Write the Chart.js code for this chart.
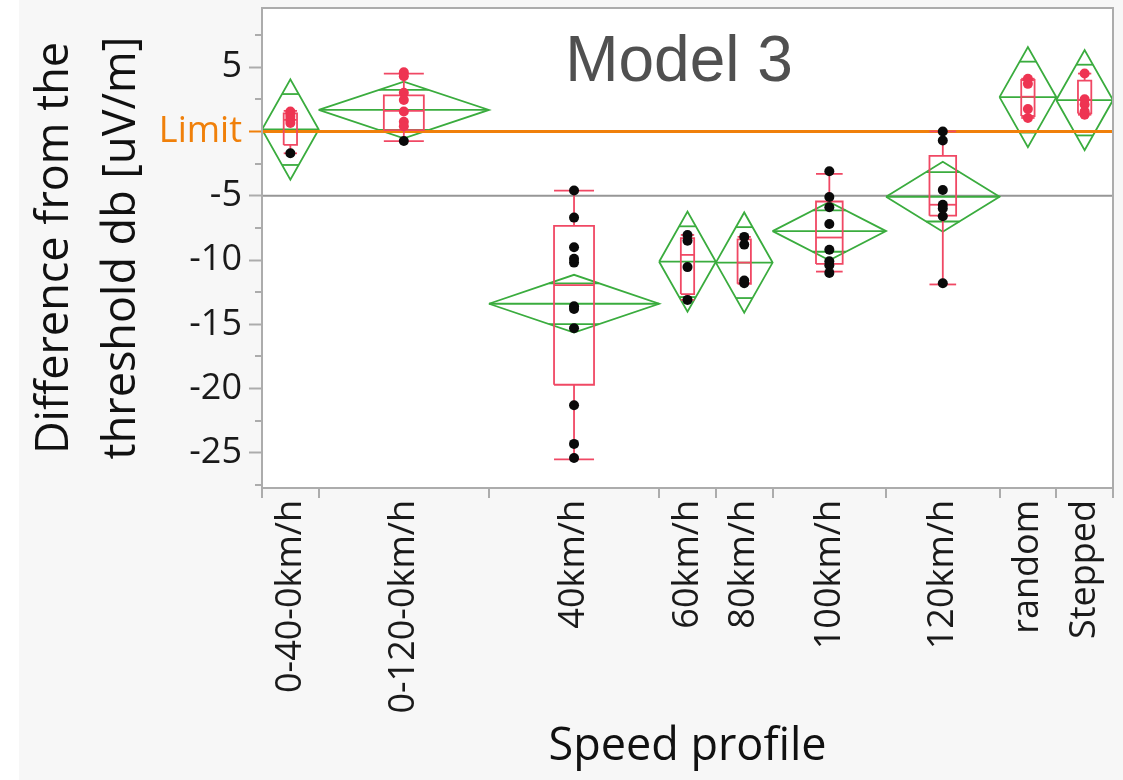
<!DOCTYPE html>
<html>
<head>
<meta charset="utf-8">
<script src="https://cdn.jsdelivr.net/npm/chart.js@4"></script>
<style>
  html, body { margin: 0; padding: 0; background: #ffffff; }
  #wrap { width: 1123px; height: 780px; position: relative; }
</style>
</head>
<body>
<div id="wrap"><canvas id="c"></canvas></div>
<script>
// Speed profiles and their relative group widths
const categories = ['0-40-0km/h', '0-120-0km/h', '40km/h', '60km/h', '80km/h', '100km/h', '120km/h', 'random', 'Stepped'];
const groupWeight = [1, 3, 3, 1, 1, 2, 2, 1, 1];

// Measured differences from the threshold (dB uV/m) per speed profile
const observations = [
  [1.55, 1.35, 1.15, 0.9, 0.65, -1.7],
  [4.6, 4.3, 3.0, 2.45, 1.55, 0.75, 0.4, -0.75],
  [-4.6, -6.7, -9.0, -9.9, -10.2, -13.6, -13.8, -15.3, -21.3, -24.3, -25.4],
  [-8.05, -8.5, -10.55, -13.1],
  [-8.2, -8.8, -11.6, -11.8],
  [-3.1, -5.1, -5.9, -7.2, -9.2, -10.1, -10.4, -11.0],
  [0.0, -0.7, -4.55, -5.7, -6.0, -6.6, -11.8],
  [4.1, 3.7, 1.75, 1.05],
  [4.5, 2.5, 2.1, 1.55, 1.3]
];

// Box plot statistics
const boxQ1       = [-1.05, 0.1, -19.7, -12.65, -11.85, -10.3, -6.55, 1.2, 1.4];
const boxMedian   = [0.9, 1.6, -11.95, -9.6, -10.2, -8.25, -5.7, 2.7, 2.45];
const boxQ3       = [1.4, 2.8, -7.35, -8.3, -8.4, -5.45, -1.9, 4.0, 3.95];
const whiskerLow  = [-1.7, -0.75, -25.5, -13.1, -11.8, -10.9, -11.9, 1.05, 1.3];
const whiskerHigh = [1.6, 4.5, -4.6, -8.05, -8.2, -3.3, 0.0, 4.1, 4.5];

// Means diamonds: group mean and 95% confidence half-width
const groupMean = [0.15, 1.67, -13.4, -10.13, -10.2, -7.75, -5.08, 2.67, 2.44];
const meanCI    = [3.9, 2.2, 2.25, 3.89, 3.9, 2.27, 2.72, 3.9, 3.89];

// Reference lines
const limitValue = 0;
const grandMean = -5;

// Axis ticks
const yTickValues = [5, 0, -5, -10, -15, -20, -25];
const yMinorTicks = [7.5, 2.5, -2.5, -7.5, -12.5, -17.5, -22.5, -27.5];
const yMin = -27.73, yMax = 9.6;

const GREEN = 'rgb(58,172,62)';
const BOX_RED = 'rgb(240,72,100)';
const POINT_RED = 'rgb(238,52,82)';
const POINT_BLACK = 'rgb(10,10,10)';
const ORANGE = 'rgb(240,128,10)';
const FRAME = 'rgb(172,172,172)';

// Group positions along the x scale
const catCenter = [];
const catBounds = [0];
let acc = 0;
groupWeight.forEach(w => { catCenter.push(acc + w / 2); acc += w; catBounds.push(acc); });
const xMax = acc;

function lineSet(points, color, width, order) {
  return {
    data: points, showLine: true, borderColor: color, borderWidth: width,
    pointRadius: 0, pointHoverRadius: 0, fill: false, tension: 0, order: order,
    borderJoinStyle: 'miter'
  };
}

const datasets = [];

// Points on top
const pts = [], ptColors = [];
observations.forEach((arr, i) => arr.forEach(v => {
  pts.push({ x: catCenter[i], y: v });
  ptColors.push(v > limitValue ? POINT_RED : POINT_BLACK);
}));
datasets.push({
  data: pts, pointRadius: 5, pointHoverRadius: 5, pointBackgroundColor: ptColors,
  pointBorderWidth: 0, showLine: false, order: 0
});

// Limit line and grand mean line
datasets.push(lineSet([{ x: 0, y: limitValue }, { x: xMax, y: limitValue }], ORANGE, 3, 2));
datasets.push(lineSet([{ x: 0, y: grandMean }, { x: xMax, y: grandMean }], 'rgb(150,150,150)', 2, 5));

// Box plots
categories.forEach((_, i) => {
  const c = catCenter[i];
  const bw = 0.1175 * groupWeight[i];
  datasets.push(lineSet([
    { x: c - bw, y: boxQ1[i] }, { x: c + bw, y: boxQ1[i] }, { x: c + bw, y: boxQ3[i] },
    { x: c - bw, y: boxQ3[i] }, { x: c - bw, y: boxQ1[i] }], BOX_RED, 1.8, 1));
  datasets.push(lineSet([{ x: c - bw, y: boxMedian[i] }, { x: c + bw, y: boxMedian[i] }], BOX_RED, 1.8, 1));
  datasets.push(lineSet([{ x: c, y: boxQ3[i] }, { x: c, y: whiskerHigh[i] }], BOX_RED, 1.8, 1));
  datasets.push(lineSet([{ x: c, y: boxQ1[i] }, { x: c, y: whiskerLow[i] }], BOX_RED, 1.8, 1));
  datasets.push(lineSet([{ x: c - bw, y: whiskerHigh[i] }, { x: c + bw, y: whiskerHigh[i] }], BOX_RED, 1.8, 1));
  datasets.push(lineSet([{ x: c - bw, y: whiskerLow[i] }, { x: c + bw, y: whiskerLow[i] }], BOX_RED, 1.8, 1));
});

// Means diamonds with overlap marks
categories.forEach((_, i) => {
  const L = catBounds[i], R = catBounds[i + 1], c = catCenter[i];
  const m = groupMean[i], ci = meanCI[i];
  datasets.push(lineSet([
    { x: L, y: m }, { x: c, y: m + ci }, { x: R, y: m }, { x: c, y: m - ci }, { x: L, y: m }], GREEN, 1.8, 3));
  datasets.push(lineSet([{ x: L, y: m }, { x: R, y: m }], GREEN, 1.8, 3));
  const k = 1 / Math.SQRT2;
  const hw = (R - L) / 2 * (1 - k);
  datasets.push(lineSet([{ x: c - hw, y: m + ci * k }, { x: c + hw, y: m + ci * k }], GREEN, 1.8, 3));
  datasets.push(lineSet([{ x: c - hw, y: m - ci * k }, { x: c + hw, y: m - ci * k }], GREEN, 1.8, 3));
});

// Panel background, frame, minor ticks, group separators and the plot title
const decor = {
  id: 'decor',
  beforeDraw(chart) {
    const { ctx, chartArea: a, width, height } = chart;
    ctx.save();
    ctx.fillStyle = '#ffffff';
    ctx.fillRect(0, 0, width, height);
    ctx.fillStyle = '#f7f7f7';
    ctx.fillRect(19, 0, width - 19, height);
    ctx.fillStyle = '#ffffff';
    ctx.fillRect(a.left, a.top, a.right - a.left, a.bottom - a.top);
    ctx.restore();
  },
  afterDraw(chart) {
    const { ctx, chartArea: a } = chart;
    const xs = chart.scales.x, ys = chart.scales.y;
    ctx.save();
    ctx.strokeStyle = FRAME;
    ctx.lineWidth = 2;
    ctx.strokeRect(a.left, a.top, a.right - a.left, a.bottom - a.top);
    ctx.beginPath();
    yMinorTicks.forEach(v => {
      const p = Math.round(ys.getPixelForValue(v));
      ctx.moveTo(a.left - 7, p); ctx.lineTo(a.left, p);
    });
    catBounds.forEach(b => {
      const p = Math.round(xs.getPixelForValue(b));
      ctx.moveTo(p, a.bottom); ctx.lineTo(p, a.bottom + 10);
    });
    ctx.stroke();
    ctx.fillStyle = '#505050';
    ctx.font = '64px "Liberation Sans", Arial, sans-serif';
    ctx.textAlign = 'center';
    ctx.textBaseline = 'alphabetic';
    ctx.fillText('Model 3', 679, 81);
    ctx.restore();
  }
};

const TICK_FONT = { family: '"Open Sans", "Noto Sans", sans-serif', size: 36 };
const TITLE_FONT = { family: '"Open Sans", "Noto Sans", sans-serif', size: 45, lineHeight: 1.5 };

new Chart(document.getElementById('c'), {
  type: 'scatter',
  data: { datasets },
  plugins: [decor],
  options: {
    responsive: true,
    maintainAspectRatio: false,
    animation: false,
    events: [],
    layout: { padding: { top: 8, right: 10, left: 0, bottom: 0 } },
    plugins: { legend: { display: false }, tooltip: { enabled: false } },
    scales: {
      x: {
        type: 'linear', min: 0, max: xMax,
        border: { display: false },
        grid: { display: true, drawOnChartArea: false, drawTicks: false },
        afterBuildTicks(scale) { scale.ticks = catCenter.map(v => ({ value: v })); },
        afterFit(scale) { scale.height = 292; scale.paddingLeft = 0; scale.paddingRight = 0; },
        ticks: {
          autoSkip: false, minRotation: 90, maxRotation: 90, padding: 12,
          color: '#1a1a1a', font: TICK_FONT,
          callback: (value, index) => categories[index]
        },
        title: {
          display: true, text: 'Speed profile', color: '#111111',
          font: { family: '"Open Sans", "Noto Sans", sans-serif', size: 45 },
          padding: { top: 0, bottom: 6 }
        }
      },
      y: {
        type: 'linear', min: yMin, max: yMax,
        border: { display: false },
        grid: {
          drawOnChartArea: false, drawTicks: true, tickLength: 13, tickWidth: 2,
          tickColor: ctx => (ctx.tick && ctx.tick.value === limitValue) ? ORANGE : FRAME
        },
        afterBuildTicks(scale) { scale.ticks = yTickValues.map(v => ({ value: v })); },
        afterFit(scale) { scale.width = 262; scale.paddingTop = 0; scale.paddingBottom = 0; },
        ticks: {
          padding: 7, font: TICK_FONT,
          color: ctx => (ctx.tick && ctx.tick.value === limitValue) ? ORANGE : '#1a1a1a',
          callback: v => (v === limitValue ? 'Limit' : String(v))
        },
        title: {
          display: true, text: ['Difference from the', 'threshold db [uV/m]'], color: '#111111',
          font: TITLE_FONT, padding: { top: 21, bottom: 0 }
        }
      }
    }
  }
});
</script>
</body>
</html>
